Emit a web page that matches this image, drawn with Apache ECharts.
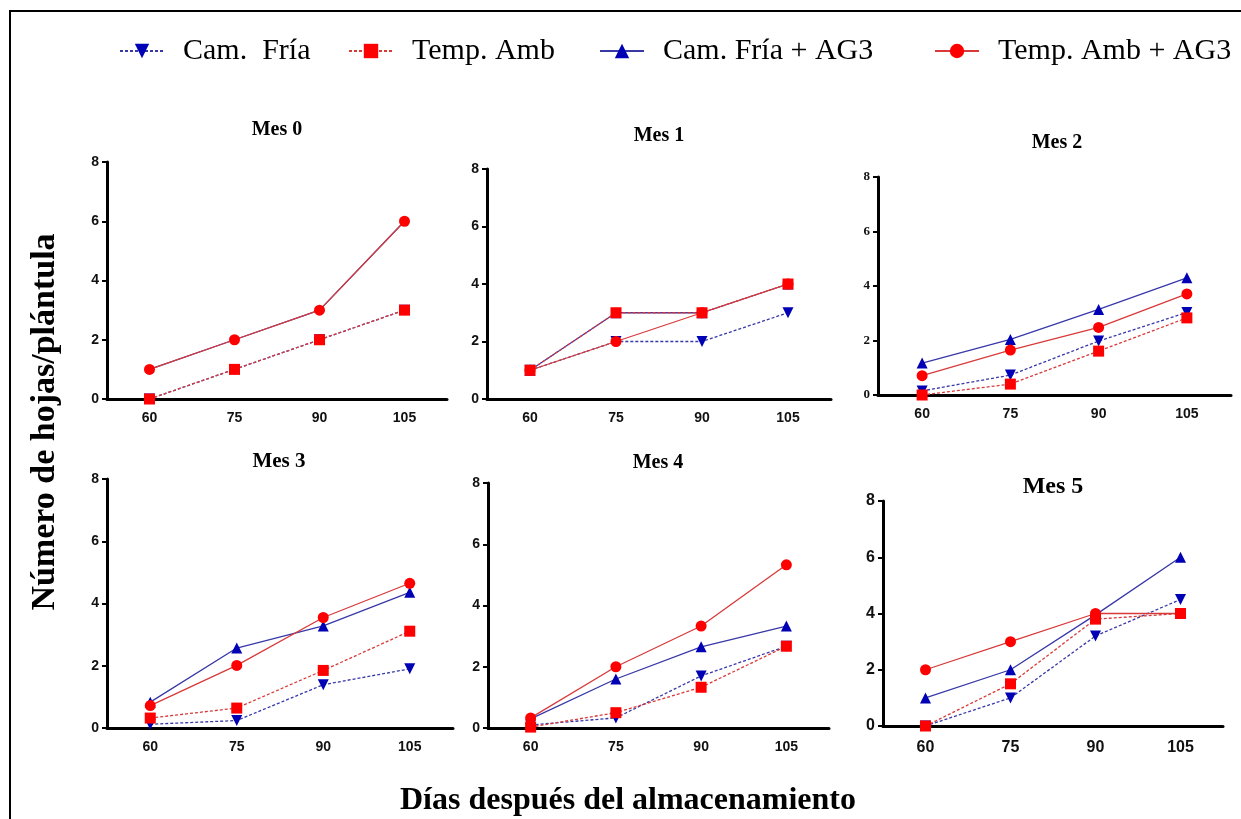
<!DOCTYPE html>
<html>
<head>
<meta charset="utf-8">
<script src="https://cdn.jsdelivr.net/npm/echarts@6/dist/echarts.min.js"></script>
<style>html,body{margin:0;padding:0;background:#fff}#c{width:1241px;height:819px}</style>
</head>
<body>
<div id="c"></div>
<script>
// ---- data ----
const dias = ['60', '75', '90', '105'];
const meses = ['Mes 0', 'Mes 1', 'Mes 2', 'Mes 3', 'Mes 4', 'Mes 5'];
const yTicks = [0, 2, 4, 6, 8];
const camFria    = [[0, 1, 2, 3], [1, 2, 2, 3], [0.15, 0.73, 1.98, 3.03], [0.12, 0.24, 1.39, 1.9], [0.1, 0.33, 1.7, 2.67], [0, 1, 3.2, 4.5]];
const camFriaAG3 = [[1, 2, 3, 6], [1, 3, 3, 4], [1.17, 2.04, 3.14, 4.3], [0.83, 2.57, 3.28, 4.36], [0.3, 1.6, 2.65, 3.33], [1, 2, 3.95, 6]];
const tempAmb    = [[0, 1, 2, 3], [1, 3, 3, 4], [0, 0.4, 1.61, 2.83], [0.32, 0.64, 1.85, 3.11], [0.03, 0.5, 1.33, 2.67], [0, 1.5, 3.8, 4]];
const tempAmbAG3 = [[1, 2, 3, 6], [1, 2, 3, 4], [0.71, 1.65, 2.48, 3.71], [0.72, 2.01, 3.55, 4.65], [0.33, 2, 3.33, 5.33], [2, 3, 4, 4]];
const names = ['Cam.  Fría', 'Temp. Amb', 'Cam. Fría + AG3', 'Temp. Amb + AG3'];

// ---- layout ----
const grids = [
  {left: 107, top: 162, width: 340, height: 237},
  {left: 487, top: 169, width: 344, height: 230},
  {left: 878, top: 177, width: 353, height: 218},
  {left: 107, top: 479, width: 346, height: 249},
  {left: 488, top: 483, width: 341, height: 245},
  {left: 883, top: 501, width: 340, height: 225}
];
const titlePos = [[277, 130, 20], [659, 136, 20], [1057, 143, 20], [279, 462, 21], [658, 463, 20], [1053, 487, 24]];
const labelSize = [14, 14, 14, 14, 14, 16];
const yLabelFont = ['Liberation Sans', 'Liberation Sans', 'Liberation Serif', 'Liberation Sans', 'Liberation Sans', 'Liberation Sans'];
const hiddenMarks = {0: ['Cam. Fría + AG3']};

const BLUE = '#0000b4', RED = '#ff0000', BLUE_L = '#3838a8', RED_L = '#d83a3a';
const styles = {
  'Cam.  Fría': {symbol: 'triangle', rotate: 180, color: BLUE, line: BLUE_L, type: [3, 2]},
  'Temp. Amb': {symbol: 'rect', rotate: 0, color: RED, line: RED_L, type: [3, 2]},
  'Cam. Fría + AG3': {symbol: 'triangle', rotate: 0, color: BLUE, line: BLUE_L, type: 'solid'},
  'Temp. Amb + AG3': {symbol: 'circle', rotate: 0, color: RED, line: RED_L, type: 'solid'}
};
const seriesData = {
  'Cam.  Fría': camFria, 'Temp. Amb': tempAmb, 'Cam. Fría + AG3': camFriaAG3, 'Temp. Amb + AG3': tempAmbAG3
};
const drawOrder = ['Cam.  Fría', 'Cam. Fría + AG3', 'Temp. Amb', 'Temp. Amb + AG3'];

const xAxis = [], yAxis = [], series = [], graphic = [];
grids.forEach((g, i) => {
  xAxis.push({
    type: 'category', gridIndex: i, data: dias, boundaryGap: true,
    axisLine: {lineStyle: {color: '#000', width: 3}},
    axisTick: {alignWithLabel: true, length: 5, lineStyle: {color: '#000', width: 2}},
    axisLabel: {color: '#111', fontFamily: 'Liberation Sans', fontWeight: 'bold', fontSize: labelSize[i], margin: i === 5 ? 14 : 12}
  });
  yAxis.push({
    type: 'value', gridIndex: i, min: 0, max: 8, interval: 2,
    splitLine: {show: false},
    axisLine: {show: true, lineStyle: {color: '#000', width: 3}},
    axisTick: {show: true, length: 5, lineStyle: {color: '#000', width: 2}},
    axisLabel: {color: '#111', fontFamily: yLabelFont[i], fontWeight: 'bold', fontSize: i === 2 ? 13 : labelSize[i], margin: 8}
  });
  drawOrder.forEach(n => {
    const s = styles[n];
    const hide = (hiddenMarks[i] || []).indexOf(n) >= 0;
    series.push({
      name: n, type: 'line', xAxisIndex: i, yAxisIndex: i,
      data: seriesData[n][i],
      symbol: s.symbol, symbolRotate: s.rotate, symbolSize: 11,
      showSymbol: !hide,
      itemStyle: {color: s.color},
      lineStyle: {color: s.line, width: 1.3, type: s.type},
      animation: false, z: 2
    });
  });
  graphic.push({
    type: 'text', x: titlePos[i][0], y: titlePos[i][1],
    style: {text: meses[i], font: 'bold ' + titlePos[i][2] + 'px "Liberation Serif"', fill: '#000', textAlign: 'center', textVerticalAlign: 'middle'}
  });
});

graphic.push({
  type: 'text', x: 45, y: 422, rotation: Math.PI / 2,
  style: {text: 'Número de hojas/plántula', font: 'bold 34px "Liberation Serif"', fill: '#000', textAlign: 'center', textVerticalAlign: 'middle'}
});
graphic.push({
  type: 'text', x: 628, y: 801,
  style: {text: 'Días después del almacenamiento', font: 'bold 32px "Liberation Serif"', fill: '#000', textAlign: 'center', textVerticalAlign: 'middle'}
});
graphic.push({
  type: 'rect', shape: {x: 10, y: 11, width: 1240, height: 820},
  style: {fill: 'none', stroke: '#000', lineWidth: 2}, silent: true
});

const legendLeft = [114, 343, 594, 929];
const legend = names.map((n, k) => ({
  data: [n], left: legendLeft[k], top: 31, itemWidth: 44, itemHeight: 18,
  textStyle: {fontFamily: 'Liberation Serif', fontSize: 30, color: '#000', padding: [0, 0, 0, 14]}
}));

const chart = echarts.init(document.getElementById('c'), null, {renderer: 'canvas'});
chart.setOption({
  animation: false,
  backgroundColor: '#fff',
  grid: grids,
  xAxis, yAxis, series, legend, graphic
});
</script>
</body>
</html>
